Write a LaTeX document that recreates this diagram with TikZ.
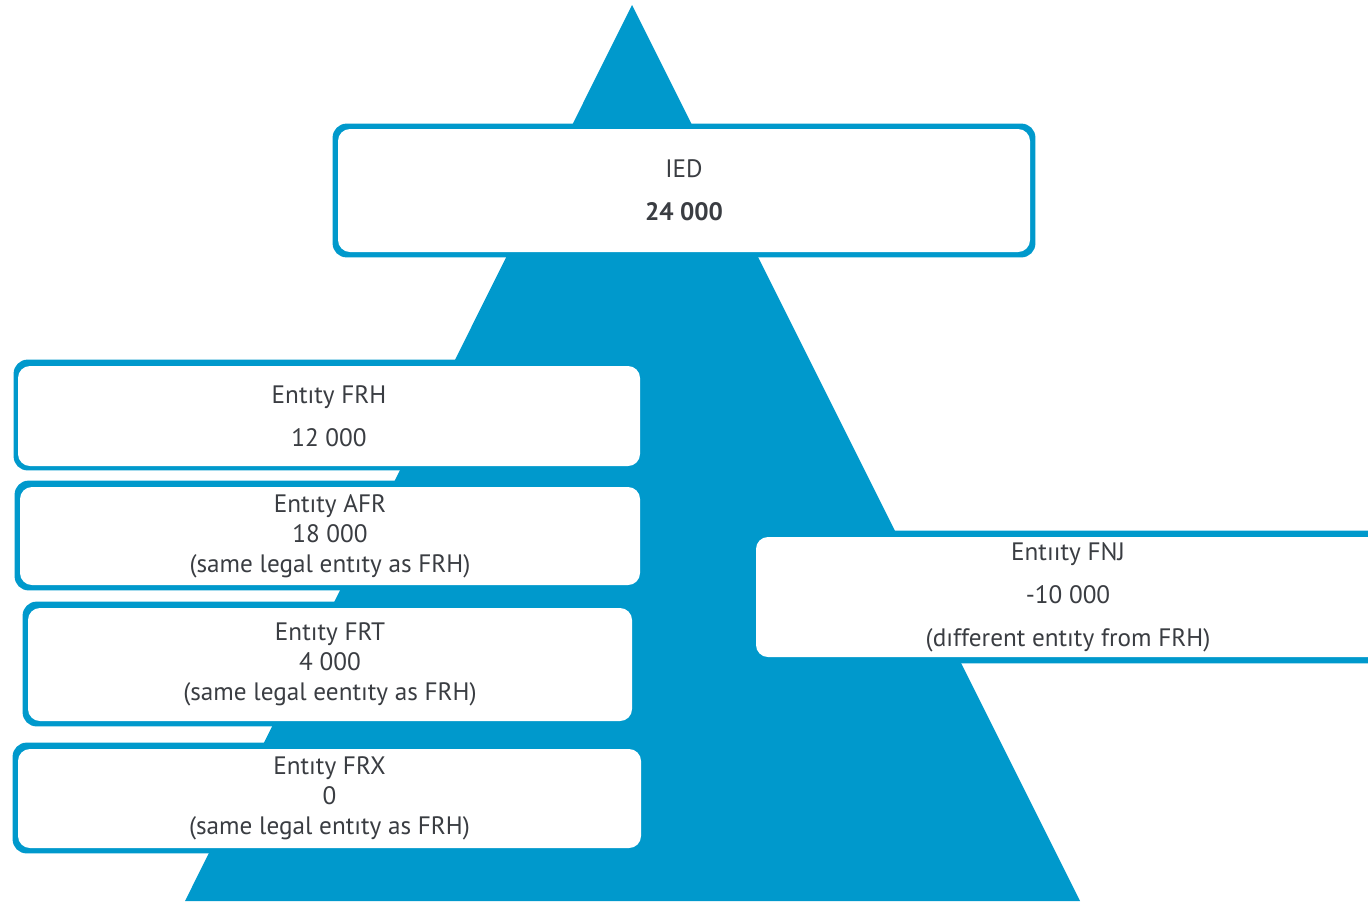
\documentclass[tikz,border=0pt]{standalone}
\usepackage{fontspec}
\setmainfont{PT Sans}
\usetikzlibrary{calc,backgrounds}
\definecolor{ieblue}{RGB}{0,153,204}
\definecolor{ietext}{RGB}{58,61,66}

\begin{document}
\begin{tikzpicture}[
    x=0.5pt, y=-0.5pt,
    entity/.style={
        rectangle,
        rounded corners=6pt,
        fill=white,
        text=ietext,
        font=\fontsize{12.6}{15}\selectfont,
        align=center,
        inner sep=0pt
    },
    spaced/.style={
        font=\fontsize{12.6}{21.5}\selectfont
    },
    frame/.style={
        fill=ieblue,
        rounded corners=7pt
    }
]
\useasboundingbox (0,0) rectangle (1368,901);
\clip (0,0) rectangle (1368,901);

\node[entity, spaced, minimum width=346pt, minimum height=61.5pt] (ied) at (684,190.5) {IED\\\textbf{24 000}};
\node[entity, spaced, minimum width=311pt, minimum height=50pt] (frh) at (329,416) {Entıty FRH\\12 000};
\node[entity, minimum width=310pt, minimum height=49pt] (afr) at (330,536) {Entıty AFR\\18 000\\(same legal entıty as FRH)};
\node[entity, minimum width=302pt, minimum height=56.5pt] (frt) at (330,664.5) {Entıty FRT\\4 000\\(same legal eentıty as FRH)};
\node[entity, minimum width=311.5pt, minimum height=49.5pt] (frx) at (329.5,798.5) {Entıty FRX\\0\\(same legal entıty as FRH)};
\node[entity, spaced, minimum width=312pt, minimum height=60pt] (fnj) at (1068,597) {Entııty FNJ\\-10 000\\(dıfferent entıty from FRH)};

\begin{scope}[on background layer]
    % pyramid behind the boxes
    \fill[ieblue] (632,5) -- (185,901) -- (1080,901) -- cycle;
    % blue frames round the boxes
    \foreach \n/\dl/\dt/\dr/\db in {ied/5/5/5/5, frh/4/6/-4/4, afr/5/6/-4/5, frt/5/6/-4/5, frx/5/6/-5/5, fnj/-6/6/5/6}
        \fill[frame] ($(\n.north west)+(-\dl,-\dt)$) rectangle ($(\n.south east)+(\dr,\db)$);
\end{scope}

\end{tikzpicture}
\end{document}
